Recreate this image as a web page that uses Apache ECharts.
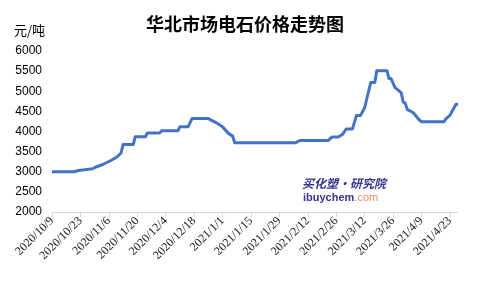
<!DOCTYPE html>
<html>
<head>
<meta charset="utf-8">
<script src="https://cdn.jsdelivr.net/npm/echarts@6/dist/echarts.min.js"></script>
<style>
html,body{margin:0;padding:0;background:#fff;}
#chart{width:480px;height:288px;}
</style>
</head>
<body>
<div id="chart"></div>
<script>
// Day offsets from 2020/10/9 and the price at each (元/吨)
const days   = [0, 11, 13, 20, 22, 25, 27, 29, 32, 34, 35, 40, 41, 46, 47, 53, 54, 62, 63, 67, 69, 77, 81, 84, 87, 89, 90, 120, 122, 136, 138, 141, 143, 145, 148, 150, 152, 154, 157, 159, 160, 165, 166, 167, 169, 172, 173, 174, 175, 178, 180, 182, 193, 194, 196, 199, 200];
const prices = [3000, 3000, 3030, 3075, 3125, 3180, 3230, 3280, 3365, 3465, 3675, 3675, 3870, 3870, 3965, 3965, 4020, 4020, 4115, 4115, 4320, 4320, 4215, 4115, 3950, 3885, 3720, 3720, 3775, 3775, 3865, 3865, 3925, 4065, 4065, 4400, 4400, 4590, 5215, 5215, 5510, 5510, 5315, 5315, 5090, 4965, 4735, 4700, 4550, 4465, 4340, 4240, 4240, 4315, 4400, 4675, 4675];
const tickDays   = [0, 14, 28, 42, 56, 70, 84, 98, 112, 126, 140, 154, 168, 182, 196];
const tickLabels = ['2020/10/9','2020/10/23','2020/11/6','2020/11/20','2020/12/4','2020/12/18','2021/1/1','2021/1/15','2021/1/29','2021/2/12','2021/2/26','2021/3/12','2021/3/26','2021/4/9','2021/4/23'];
const yTicks = [2000, 2500, 3000, 3500, 4000, 4500, 5000, 5500, 6000];

const chart = echarts.init(document.getElementById('chart'), null, {renderer: 'canvas'});
chart.setOption({
  animation: false,
  backgroundColor: '#fff',
  title: {
    text: '华北市场电石价格走势图',
    left: 240, top: 10, textAlign: 'center',
    textStyle: {fontFamily: 'Noto Sans CJK SC', fontWeight: 'bold', fontSize: 18, color: '#000'}
  },
  grid: {left: 52, right: 22, top: 51, bottom: 76, containLabel: false},
  xAxis: {
    type: 'value', min: 0, max: 200, interval: 14,
    axisLine: {show: true, lineStyle: {color: '#d9d9d9', width: 1}},
    axisTick: {show: true, length: 5, lineStyle: {color: '#d9d9d9'}, customValues: tickDays},
    axisLabel: {
      rotate: 45, margin: 7, color: '#1a1a1a', fontFamily: 'Liberation Serif', fontSize: 12,
      customValues: tickDays,
      formatter: v => tickLabels[tickDays.indexOf(v)] || ''
    },
    splitLine: {show: false}
  },
  yAxis: {
    type: 'value', min: yTicks[0], max: yTicks[yTicks.length - 1], interval: 500,
    axisLine: {show: false}, axisTick: {show: false}, splitLine: {show: false},
    axisLabel: {color: '#000', fontFamily: 'Liberation Sans', fontSize: 12, margin: 10, formatter: v => String(v)}
  },
  graphic: [
    {type: 'text', left: 14, top: 24, style: {text: '元/吨', fontFamily: 'Noto Sans CJK SC', fontSize: 13, fill: '#000'}},
    {type: 'text', left: 302, top: 177, style: {text: '买化塑·研究院', fontFamily: 'Noto Sans CJK SC', fontWeight: 'bold', fontStyle: 'italic', fontSize: 12, fill: '#35358f'}},
    {type: 'text', left: 303, top: 192, style: {
      text: '{a|ibuychem}{b|.com}',
      rich: {
        a: {fontFamily: 'Liberation Sans', fontWeight: 'bold', fontSize: 11, fill: '#35358f'},
        b: {fontFamily: 'Liberation Sans', fontSize: 11, fill: '#f58a66'}
      }
    }}
  ],
  series: [{
    type: 'line',
    data: days.map((d, i) => [d, prices[i]]),
    showSymbol: false,
    lineStyle: {color: '#4472c4', width: 3, join: 'round'},
    itemStyle: {color: '#4472c4'}
  }]
});
</script>
</body>
</html>
